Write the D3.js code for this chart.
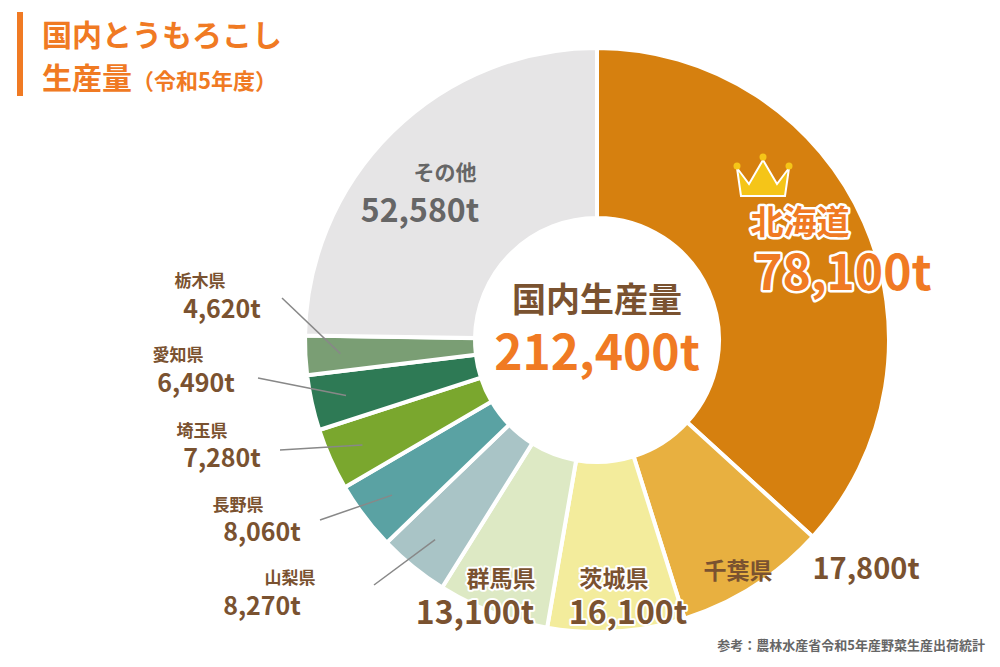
<!DOCTYPE html>
<html lang="ja">
<head>
<meta charset="UTF-8">
<script src="https://cdn.jsdelivr.net/npm/d3@7"></script>
<style>
  body { margin: 0; background: #fff; }
  svg text { font-family: "Noto Sans CJK JP", "Noto Sans", sans-serif; font-weight: 700; }
  .lbl { paint-order: stroke; stroke: #fff; stroke-linejoin: round; }
</style>
</head>
<body>
<div id="chart"></div>
<script>
var prefectures = ["北海道", "千葉県", "茨城県", "群馬県", "山梨県", "長野県", "埼玉県", "愛知県", "栃木県", "その他"];
var tons = [78100, 17800, 16100, 13100, 8270, 8060, 7280, 6490, 4620, 52580];
var valueLabels = ["78,100t", "17,800t", "16,100t", "13,100t", "8,270t", "8,060t", "7,280t", "6,490t", "4,620t", "52,580t"];
var total = 212400;

var colors = ["#d6800f", "#e8b040", "#f3ec9c", "#dde9c4", "#a9c4c6", "#5aa2a3", "#7aa72e", "#2e7a55", "#7a9e74", "#e6e5e6"];

var width = 1000, height = 667;
var cx = 597, cy = 340, outerR = 292, innerR = 122;
var brown = "#7a5230", orange = "#f07a23";

var svg = d3.select("#chart").append("svg")
    .attr("width", width).attr("height", height);

// title
svg.append("rect").attr("x", 17).attr("y", 12).attr("width", 6).attr("height", 84).attr("fill", "#f07a23");
svg.append("text").attr("x", 42).attr("y", 46).attr("font-size", 30).attr("fill", orange).text("国内とうもろこし");
var t2 = svg.append("text").attr("x", 42).attr("y", 89).attr("font-size", 30).attr("fill", orange);
t2.append("tspan").text("生産量");
t2.append("tspan").attr("font-size", 22).text("（令和5年度）");

var pie = d3.pie().sort(null).value(function(d) { return d; });
var arc = d3.arc().innerRadius(innerR).outerRadius(outerR);
var arcs = pie(tons);

var g = svg.append("g").attr("transform", "translate(" + cx + "," + cy + ")");
g.selectAll("path").data(arcs).enter().append("path")
    .attr("d", arc)
    .attr("fill", function(d, i) { return colors[i]; })
    .attr("stroke", "#fff").attr("stroke-width", 4);

// center
svg.append("text").attr("x", cx).attr("y", 312).attr("text-anchor", "middle")
    .attr("font-size", 34).attr("fill", brown).text("国内生産量");
svg.append("text").attr("x", cx).attr("y", 370).attr("text-anchor", "middle")
    .attr("font-size", 48).attr("fill", orange).text(d3.format(",")(total) + "t");

// [name x, name y, name size, value x, value y, value size, color, stroke width, line start]
var layout = [
  [800, 234, 33, 843, 290, 48, orange, 5, null],
  [738, 579, 23, 866, 579, 29, brown, 0, null],
  [614, 587, 23, 628, 624, 32, brown, 4, null],
  [501, 587, 23, 475, 624, 32, brown, 4, null],
  [290, 584, 17, 262, 615, 25, brown, 0, [374, 585]],
  [238, 511, 17, 262, 541, 25, brown, 0, [320, 520]],
  [202, 437, 17, 222, 467, 25, brown, 0, [280, 450]],
  [178, 361, 17, 196, 392, 25, brown, 0, [258, 378]],
  [200, 287, 17, 222, 318, 25, brown, 0, [282, 298]],
  [445, 180, 21, 420, 222, 32, "#666", 0, null]
];

var labels = svg.append("g");
arcs.forEach(function(a, i) {
  var L = layout[i];
  if (L[8]) {
    var mid = (a.startAngle + a.endAngle) / 2, r = (innerR + outerR) / 2 + 50;
    labels.append("line")
      .attr("x1", L[8][0]).attr("y1", L[8][1])
      .attr("x2", cx + Math.sin(mid) * r).attr("y2", cy - Math.cos(mid) * r)
      .attr("stroke", "#888").attr("stroke-width", 1.5);
  }
  labels.append("text").attr("class", "lbl").attr("stroke-width", L[7])
    .attr("x", L[0]).attr("y", L[1]).attr("font-size", L[2])
    .attr("text-anchor", "middle").attr("fill", L[6]).text(prefectures[i]);
  labels.append("text").attr("class", "lbl").attr("stroke-width", L[7])
    .attr("x", L[3]).attr("y", L[4]).attr("font-size", L[5])
    .attr("text-anchor", "middle").attr("fill", L[6]).text(valueLabels[i]);
});

// crown
var crown = svg.append("g").attr("transform", "translate(763,180)");
crown.append("path")
  .attr("d", "M-26,-12 L-14,4 L0,-20 L14,4 L26,-12 L22,16 L-22,16 Z")
  .attr("fill", "#f5c518").attr("stroke", "#fff").attr("stroke-width", 2);
[[-26, -14], [0, -23], [26, -14]].forEach(function(p) {
  crown.append("circle").attr("cx", p[0]).attr("cy", p[1]).attr("r", 3.5).attr("fill", "#f5c518");
});

// source
svg.append("text").attr("x", 985).attr("y", 650).attr("text-anchor", "end")
  .attr("font-size", 13).attr("font-weight", 400).attr("fill", "#666")
  .text("参考：農林水産省令和5年産野菜生産出荷統計");
</script>
</body>
</html>
